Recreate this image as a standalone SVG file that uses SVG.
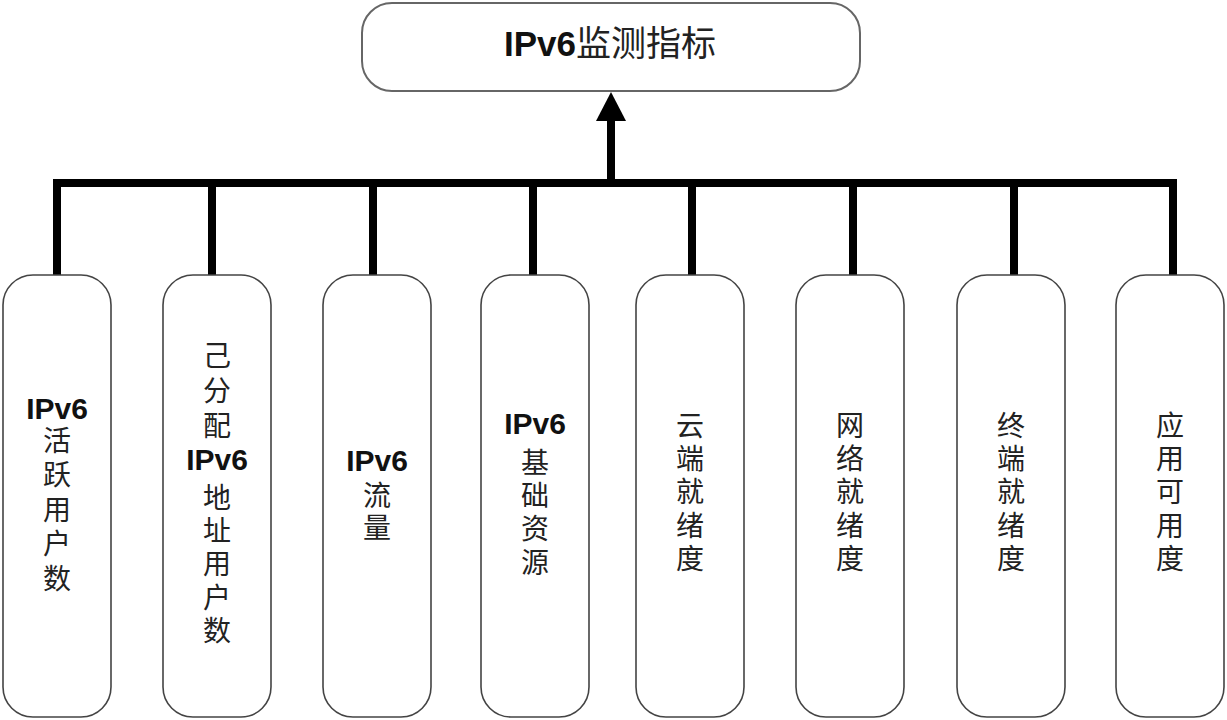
<svg xmlns="http://www.w3.org/2000/svg" width="1227" height="720" viewBox="0 0 1227 720">
<style>
.box{fill:#fff;stroke:#444;stroke-width:1.6}
.top{fill:#fff;stroke:#666;stroke-width:2}
.v{font-family:"Noto Sans CJK SC","Liberation Sans",sans-serif;font-size:28px;fill:#222;writing-mode:vertical-rl;letter-spacing:5.3px}
.en{font-family:"Liberation Sans","Noto Sans CJK SC",sans-serif;font-size:30px;font-weight:bold;fill:#111;text-anchor:middle}
.wire{fill:none;stroke:#000;stroke-width:8}
</style>
<rect width="1227" height="720" fill="#fff"/>
<g id="connectors">
<path class="wire" d="M53 183H1177M57 183V275M212 183V275M373 183V275M533 183V275M692 183V275M853 183V275M1014 183V275M1173 183V275M611 187V118"/>
<polygon points="611,92 596,121 626,121" fill="#000"/>
</g>
<g id="root">
<rect class="top" x="362" y="3" width="498" height="88" rx="30"/>
<text x="610" y="56" style="font-family:'Liberation Sans','Noto Sans CJK SC',sans-serif;font-size:35px;fill:#222;text-anchor:middle"><tspan font-weight="bold" fill="#111">IPv6</tspan><tspan font-family="Noto Sans CJK SC">监测指标</tspan></text>
</g>
<g id="n1">
<rect class="box" x="3" y="275" width="108" height="442" rx="30"/>
<text class="en" x="57" y="419">IPv6</text>
<text class="v" x="57" y="426" style="letter-spacing:6.5px">活跃用户数</text>
</g>
<g id="n2">
<rect class="box" x="163" y="275" width="108" height="442" rx="30"/>
<text class="v" x="217" y="341" style="letter-spacing:7px">己分配</text>
<text class="en" x="217" y="470">IPv6</text>
<text class="v" x="217" y="483">地址用户数</text>
</g>
<g id="n3">
<rect class="box" x="323" y="275" width="108" height="442" rx="30"/>
<text class="en" x="377" y="471">IPv6</text>
<text class="v" x="377" y="481" style="letter-spacing:4px">流量</text>
</g>
<g id="n4">
<rect class="box" x="481" y="275" width="108" height="442" rx="30"/>
<text class="en" x="535" y="434">IPv6</text>
<text class="v" x="535" y="448">基础资源</text>
</g>
<g id="n5">
<rect class="box" x="636" y="275" width="108" height="442" rx="30"/>
<text class="v" x="690" y="411">云端就绪度</text>
</g>
<g id="n6">
<rect class="box" x="796" y="275" width="108" height="442" rx="30"/>
<text class="v" x="850" y="411">网络就绪度</text>
</g>
<g id="n7">
<rect class="box" x="957" y="275" width="108" height="442" rx="30"/>
<text class="v" x="1011" y="411">终端就绪度</text>
</g>
<g id="n8">
<rect class="box" x="1116" y="275" width="108" height="442" rx="30"/>
<text class="v" x="1170" y="411">应用可用度</text>
</g>
</svg>
